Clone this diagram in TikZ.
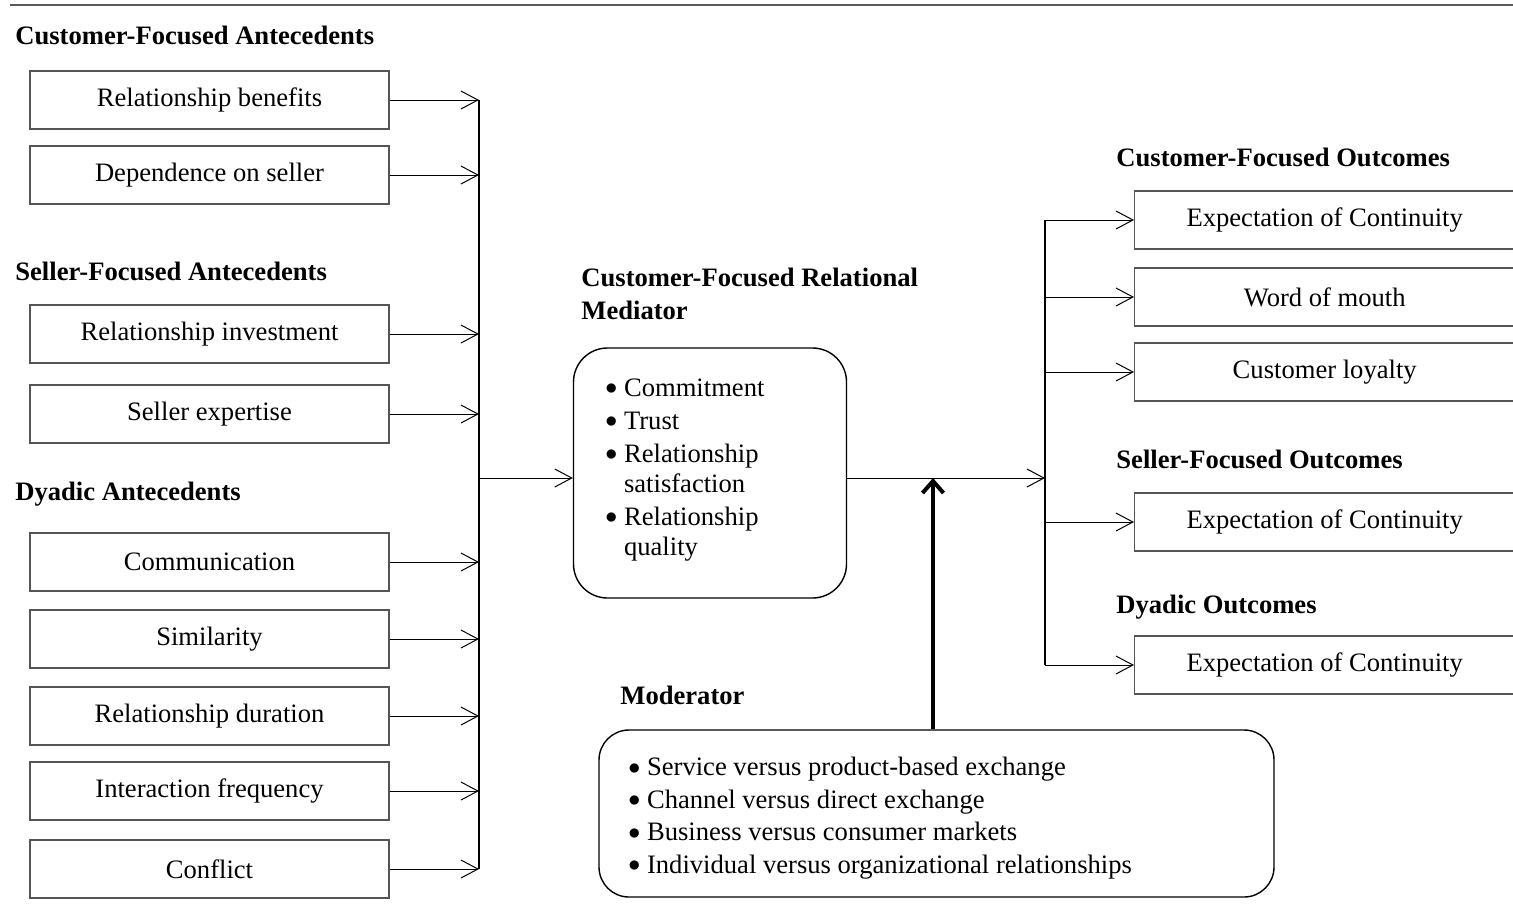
\documentclass[tikz,border=0pt]{standalone}
\usepackage{fontspec}
\setmainfont{Liberation Serif}
\usetikzlibrary{arrows.meta,positioning}
\definecolor{boxline}{HTML}{555555}
\tikzset{factorbox/.style={draw=boxline,line width=0.7pt,minimum width=179.5pt,minimum height=29pt,inner sep=0pt,font=\fontsize{13.3}{16}\selectfont},outbox/.style={factorbox,minimum width=190pt,anchor=west},grouphead/.style={anchor=west,inner sep=0pt,font=\fontsize{13.3}{16.5}\selectfont\bfseries},roundbox/.style={draw,line width=0.7pt,inner sep=0pt},listtext/.style={anchor=north west,inner sep=0pt,align=left},flowarr/.style={-{Straight Barb[length=8.5pt,width=9pt]},line width=0.5pt},busline/.style={line width=0.6pt},modarr/.style={-{Straight Barb[length=6pt,width=10.5pt]},line width=2pt}}
\newcommand{\itembul}{\raisebox{0.7pt}{\fontsize{12}{15}\selectfont$\bullet$}\ }

\begin{document}
\begin{tikzpicture}[x=0.5pt,y=-0.5pt]
\useasboundingbox (0,0) rectangle (1513,906);
\draw[line width=1pt,black!65] (10,5) -- (1513,5);
% antecedents
\node[grouphead] (cahead) at (15,35) {Customer-Focused Antecedents};
\node[factorbox] (benefits) at (209.5,100) {Relationship benefits};
\node[factorbox] (depend) at (209.5,175) {Dependence on seller};
\node[grouphead] (sahead) at (15,271) {Seller-Focused Antecedents};
\node[factorbox] (invest) at (209.5,334) {Relationship investment};
\node[factorbox] (expert) at (209.5,414) {Seller expertise};
\node[grouphead] (dahead) at (15,494) {Dyadic Antecedents};
\node[factorbox] (comm) at (209.5,562) {Communication};
\node[factorbox] (simil) at (209.5,639) {Similarity};
\node[factorbox] (durat) at (209.5,716) {Relationship duration};
\node[factorbox] (freq) at (209.5,791) {Interaction frequency};
\node[factorbox] (confl) at (209.5,869) {Conflict};
\coordinate (lbustop) at (479,100);
\coordinate (lbusbot) at (479,869);
\coordinate (lbusmid) at (479,478);
\draw[busline] (lbustop) -- (lbusbot);
\draw[flowarr] (benefits.east) -- (benefits.east -| lbustop);
\draw[flowarr] (depend.east) -- (depend.east -| lbustop);
\draw[flowarr] (invest.east) -- (invest.east -| lbustop);
\draw[flowarr] (expert.east) -- (expert.east -| lbustop);
\draw[flowarr] (comm.east) -- (comm.east -| lbustop);
\draw[flowarr] (simil.east) -- (simil.east -| lbustop);
\draw[flowarr] (durat.east) -- (durat.east -| lbustop);
\draw[flowarr] (freq.east) -- (freq.east -| lbustop);
\draw[flowarr] (confl.east) -- (confl.east -| lbustop);
% mediator
\node[grouphead,anchor=north west,align=left] (medhead) at (581,268) {Customer-Focused Relational\\Mediator};
\node[roundbox,rounded corners=17pt,minimum width=136.5pt,minimum height=125pt] (med) at (710,473) {};
\node[listtext,font=\fontsize{13.3}{15}\selectfont] (medlist) at (605,378) {\itembul Commitment\\[1.5pt]\itembul Trust\\[1.5pt]\itembul Relationship\\\phantom{\itembul}satisfaction\\[1.5pt]\itembul Relationship\\\phantom{\itembul}quality};
\coordinate (rbusmid) at (1045,478);
\draw[flowarr] (lbusmid) -- (lbusmid -| med.west);
\draw[flowarr] (lbusmid -| med.east) -- (rbusmid);
% moderator
\node[grouphead] (modhead) at (620,695) {Moderator};
\node[roundbox,rounded corners=15pt,minimum width=337.5pt,minimum height=83.5pt] (mod) at (936.5,813.5) {};
\node[listtext,font=\fontsize{13.3}{16.2}\selectfont] (modlist) at (628,757) {\itembul Service versus product-based exchange\\\itembul Channel versus direct exchange\\\itembul Business versus consumer markets\\\itembul Individual versus organizational relationships};
\coordinate (modtip) at (933,478);
\draw[modarr] (modtip |- mod.north) -- (modtip);
% outcomes
\node[grouphead] (cohead) at (1116,157) {Customer-Focused Outcomes};
\node[outbox] (cont1) at (1134,220) {Expectation of Continuity};
\node[outbox] (wom) at (1134,297) {Word of mouth};
\node[outbox] (loyal) at (1134,372) {Customer loyalty};
\node[grouphead] (sohead) at (1116,459) {Seller-Focused Outcomes};
\node[outbox] (cont2) at (1134,522) {Expectation of Continuity};
\node[grouphead] (dohead) at (1116,607) {Dyadic Outcomes};
\node[outbox] (cont3) at (1134,665) {Expectation of Continuity};
\coordinate (rbustop) at (1045,220);
\coordinate (rbusbot) at (1045,665);
\draw[busline] (rbustop) -- (rbusbot);
\draw[flowarr] (rbustop |- cont1.west) -- (cont1.west);
\draw[flowarr] (rbustop |- wom.west) -- (wom.west);
\draw[flowarr] (rbustop |- loyal.west) -- (loyal.west);
\draw[flowarr] (rbustop |- cont2.west) -- (cont2.west);
\draw[flowarr] (rbustop |- cont3.west) -- (cont3.west);
\end{tikzpicture}
\end{document}
